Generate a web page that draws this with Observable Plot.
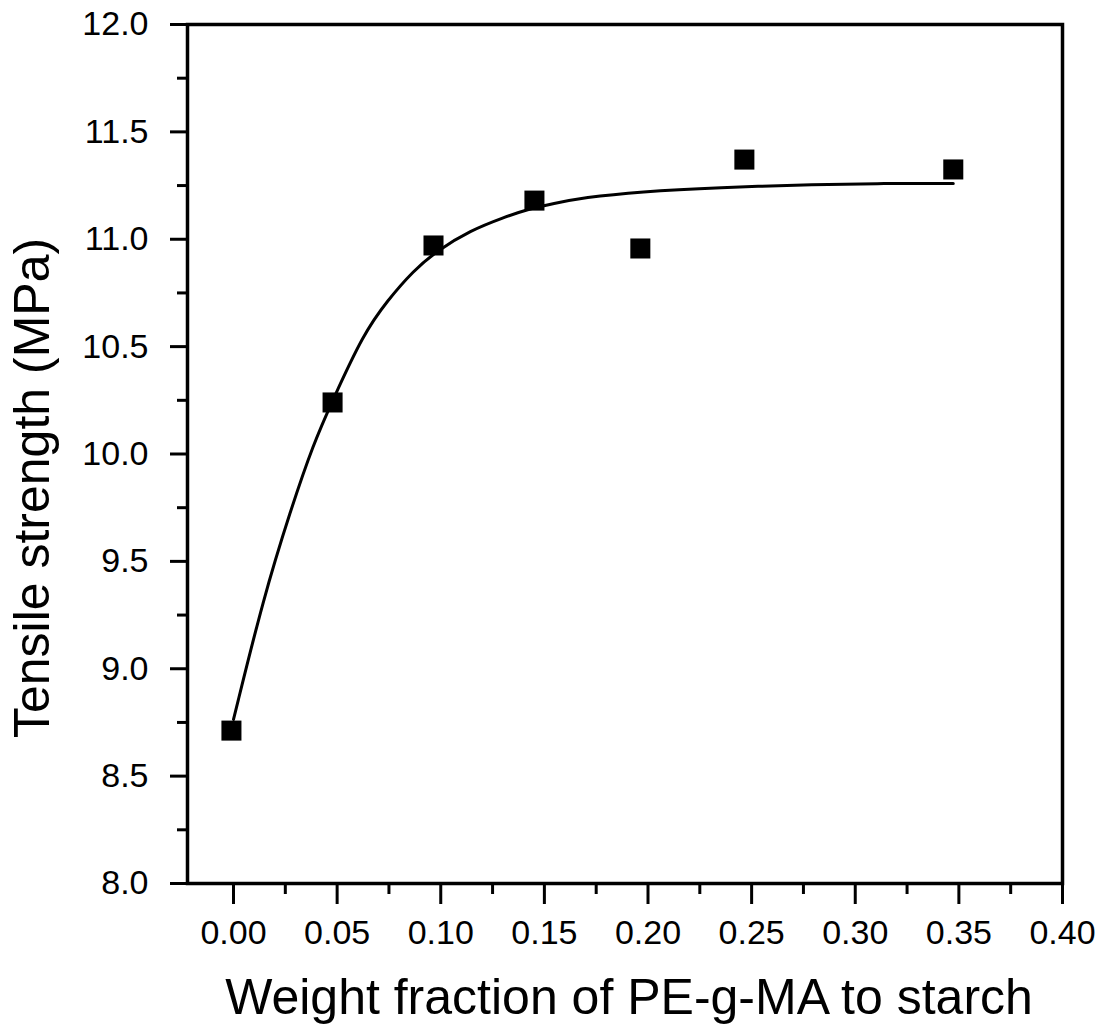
<!DOCTYPE html>
<html>
<head>
<meta charset="utf-8">
<script src="https://cdn.jsdelivr.net/npm/d3@7"></script>
<script src="https://cdn.jsdelivr.net/npm/@observablehq/plot@0.6"></script>
<style>
  html, body { margin: 0; padding: 0; background: #fff; }
  #chart svg { display: block; }
</style>
</head>
<body>
<div id="chart"></div>
<script>
// Measured data points (weight fraction, tensile strength in MPa)
const fraction = [-0.001, 0.0478, 0.0965, 0.1452, 0.1963, 0.2465, 0.3473];
const strength = [8.712, 10.24, 10.971, 11.18, 10.957, 11.371, 11.325];

// Fitted curve
const curveX = [0, 0.0145, 0.0275, 0.0386, 0.0478, 0.0627, 0.0743, 0.0868, 0.0984, 0.1143, 0.1302, 0.1418, 0.1544, 0.1688, 0.1963, 0.2335, 0.2817, 0.3136, 0.3473];
const curveY = [8.764, 9.332, 9.737, 10.049, 10.249, 10.56, 10.715, 10.854, 10.948, 11.041, 11.101, 11.139, 11.166, 11.194, 11.222, 11.241, 11.255, 11.26, 11.26];

// Axis ticks
const xMajor = [0.00, 0.05, 0.10, 0.15, 0.20, 0.25, 0.30, 0.35, 0.40];
const xMinor = [0.025, 0.075, 0.125, 0.175, 0.225, 0.275, 0.325, 0.375];
const yMajor = [8.0, 8.5, 9.0, 9.5, 10.0, 10.5, 11.0, 11.5, 12.0];
const yMinor = [8.25, 8.75, 9.25, 9.75, 10.25, 10.75, 11.25, 11.75];

const xLabel = "Weight fraction of PE-g-MA to starch";
const yLabel = "Tensile strength (MPa)";

const points = fraction.map((x, i) => ({x, y: strength[i]}));
const curve = curveX.map((x, i) => ({x, y: curveY[i]}));

const font = "'Liberation Sans', Arial, Helvetica, sans-serif";

const chart = Plot.plot({
  width: 1109,
  height: 1029,
  marginLeft: 187,
  marginRight: 47,
  marginTop: 24,
  marginBottom: 146,
  style: {fontFamily: font, background: "#fff", color: "#000"},
  x: {domain: [-0.0222, 0.40], label: null},
  y: {domain: [8.0, 12.0], label: null},
  marks: [
    Plot.axisX(xMinor, {tickSize: 11, strokeWidth: 3, text: null}),
    Plot.axisX(xMajor, {tickSize: 21, tickPadding: 15, strokeWidth: 3, tickFormat: d3.format(".2f"), fontSize: 34}),
    Plot.axisY(yMinor, {tickSize: 10, strokeWidth: 3, text: null}),
    Plot.axisY(yMajor, {tickSize: 17, tickPadding: 22, strokeWidth: 3, tickFormat: d3.format(".1f"), fontSize: 34}),
    Plot.frame({stroke: "#000", strokeWidth: 3.5}),
    Plot.line(curve, {x: "x", y: "y", curve: "basis", stroke: "#000", strokeWidth: 3}),
    Plot.dot(points, {x: "x", y: "y", symbol: "square", r: 11.3, fill: "#000", stroke: "none"}),
    Plot.text([xLabel], {text: d => d, frameAnchor: "bottom", lineAnchor: "top", textAnchor: "middle", dy: 95, dx: 4, fontSize: 50, fill: "#000"}),
    Plot.text([yLabel], {text: d => d, frameAnchor: "left", rotate: -90, lineAnchor: "top", textAnchor: "middle", dx: -174, dy: 34, fontSize: 50, fill: "#000"})
  ]
});

document.getElementById("chart").appendChild(chart);
</script>
</body>
</html>
